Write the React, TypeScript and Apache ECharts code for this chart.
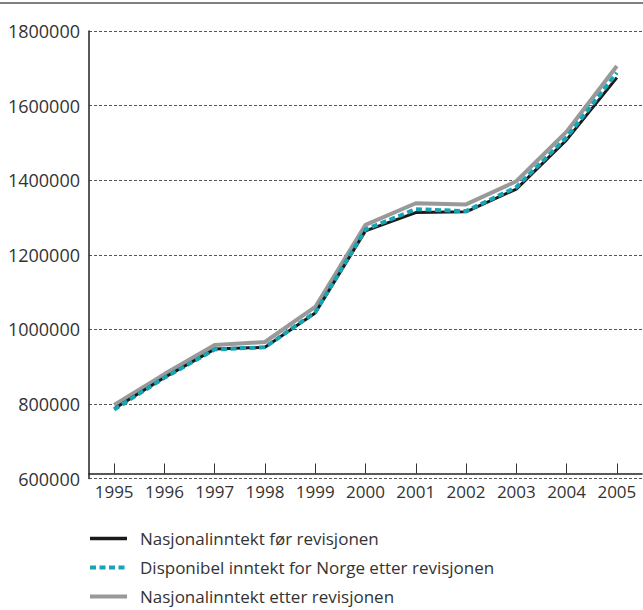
import React, { useEffect, useRef } from "react";
import * as echarts from "echarts";

const years = ["1995", "1996", "1997", "1998", "1999", "2000", "2001", "2002", "2003", "2004", "2005"];
const forRevisjon = [787000, 871000, 947000, 952000, 1044000, 1264000, 1313000, 1315000, 1376000, 1508000, 1675000];
const disponibel = [785000, 870000, 946000, 952000, 1046000, 1268000, 1322000, 1317000, 1381000, 1515000, 1688000];
const etterRevisjon = [797000, 880000, 958000, 966000, 1060000, 1280000, 1338000, 1335000, 1397000, 1530000, 1706000];
const seriesNames = [
  "Nasjonalinntekt før revisjonen",
  "Disponibel inntekt for Norge etter revisjonen",
  "Nasjonalinntekt etter revisjonen",
];

const FONT = "'Open Sans', 'Noto Sans', sans-serif";

export default function App() {
  const ref = useRef<HTMLDivElement>(null);
  useEffect(() => {
    document.body.style.margin = "0";
    if (!ref.current) return;
    const chart = echarts.init(ref.current, null, { renderer: "svg" });
    chart.setOption({
      animation: false,
      backgroundColor: "#ffffff",
      textStyle: { fontFamily: FONT },
      graphic: [
        {
          type: "rect",
          left: 0,
          top: 2,
          shape: { width: 643, height: 2 },
          style: { fill: "#808080" },
          silent: true,
        },
      ],
      grid: { left: 89, right: 1, top: 31, bottom: 131.5, containLabel: false, outerBoundsMode: "none" },
      legend: {
        orient: "vertical",
        left: 88,
        top: 530,
        height: 90,
        padding: 0,
        itemWidth: 37,
        itemHeight: 6,
        itemGap: 12,
        data: [
          { name: seriesNames[0], lineStyle: { width: 3.5 } },
          { name: seriesNames[1], lineStyle: { width: 4, type: [6, 3.5] } },
          { name: seriesNames[2], lineStyle: { width: 4 } },
        ],
        itemStyle: { opacity: 0 },
        textStyle: { fontSize: 17, color: "#333", fontFamily: FONT, padding: [0, 0, 0, 8] },
      },
      xAxis: {
        type: "category",
        data: years,
        boundaryGap: true,
        offset: -5,
        axisLine: { show: true, lineStyle: { color: "#222", width: 1.5 } },
        axisTick: { show: true, inside: true, length: 10, alignWithLabel: true, interval: 0, lineStyle: { color: "#333", width: 1 } },
        axisLabel: { fontSize: 17, color: "#333", margin: 9, interval: 0, fontFamily: FONT },
        splitLine: { show: false },
      },
      yAxis: {
        type: "value",
        min: 600000,
        max: 1800000,
        interval: 200000,
        axisLine: { show: true, lineStyle: { color: "#222", width: 1.5 } },
        axisTick: { show: false },
        axisLabel: { fontSize: 18, color: "#333", margin: 9, fontFamily: FONT, formatter: (v: number) => String(v) },
        splitLine: { show: true, lineStyle: { color: "#555", width: 1, type: [3, 2] } },
      },
      series: [
        {
          name: seriesNames[2],
          type: "line",
          data: etterRevisjon,
          symbol: "none",
          lineStyle: { color: "#999999", width: 4 },
          itemStyle: { color: "#999999" },
          z: 2,
        },
        {
          name: seriesNames[0],
          type: "line",
          data: forRevisjon,
          symbol: "none",
          lineStyle: { color: "#1a1a1a", width: 3 },
          itemStyle: { color: "#1a1a1a" },
          z: 3,
        },
        {
          name: seriesNames[1],
          type: "line",
          data: disponibel,
          symbol: "none",
          lineStyle: { color: "#17a5b5", width: 4, type: [6, 3.5] },
          itemStyle: { color: "#17a5b5" },
          z: 4,
        },
      ],
    });
    return () => chart.dispose();
  }, []);
  return <div ref={ref} style={{ width: 643, height: 610 }} />;
}
